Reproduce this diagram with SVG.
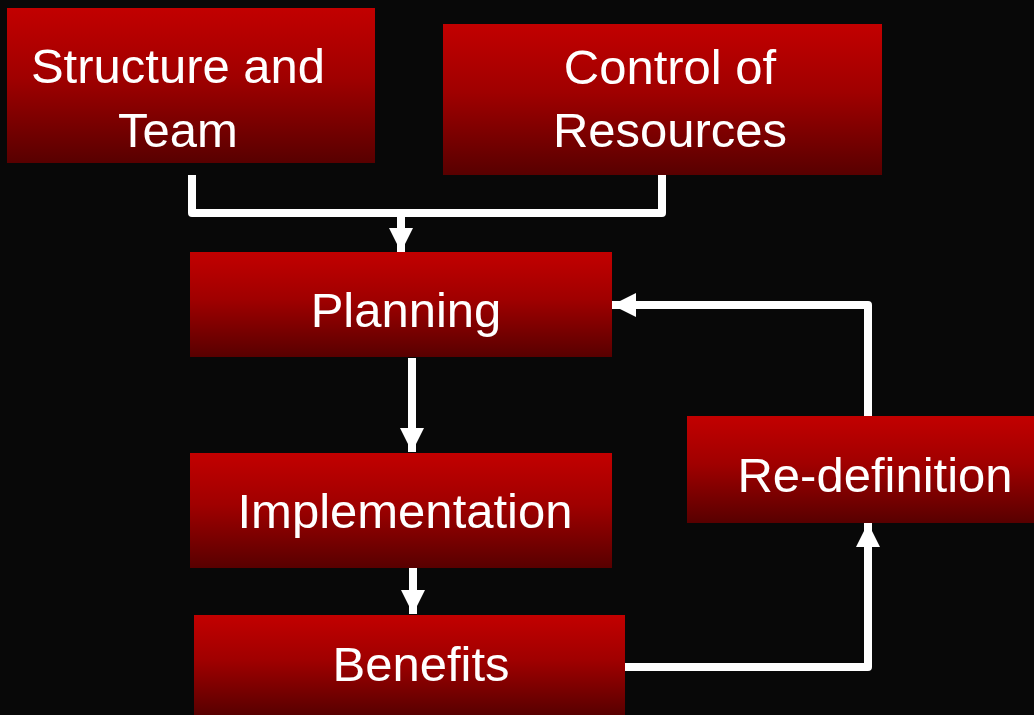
<svg xmlns="http://www.w3.org/2000/svg" width="1034" height="715" viewBox="0 0 1034 715">
<style>
.box{fill:url(#g)}
.lbl{font-family:"Liberation Sans",Arial,sans-serif;font-size:49px;fill:#ffffff;text-anchor:middle}
.con{fill:none;stroke:#ffffff;stroke-width:8;stroke-linejoin:round}
</style>
<defs>
<linearGradient id="g" x1="0" y1="0" x2="0" y2="1">
<stop offset="0" stop-color="#c20000"/>
<stop offset="0.45" stop-color="#a00000"/>
<stop offset="1" stop-color="#580000"/>
</linearGradient>
<marker id="ah" viewBox="0 0 24 24" markerWidth="24" markerHeight="24" markerUnits="userSpaceOnUse" refX="24" refY="12" orient="auto">
<path d="M0 0 L24 12 L0 24 z" fill="#ffffff"/>
</marker>
</defs>
<rect width="1034" height="715" fill="#080808"/>
<g id="connectors">
<path class="con" d="M192 175 V213 H662 V175"/>
<path class="con" d="M401 213 V252" marker-end="url(#ah)"/>
<path class="con" d="M412 358 V452" marker-end="url(#ah)"/>
<path class="con" d="M413 568 V614" marker-end="url(#ah)"/>
<path class="con" d="M625 667 H868 V523" marker-end="url(#ah)"/>
<path class="con" d="M868 416 V305 H612" marker-end="url(#ah)"/>
</g>
<g id="structure">
<rect class="box" x="7" y="8" width="368" height="155"/>
<text class="lbl" x="178" y="83">Structure and</text>
<text class="lbl" x="178" y="147">Team</text>
</g>
<g id="control">
<rect class="box" x="443" y="24" width="439" height="151"/>
<text class="lbl" x="670" y="84">Control of</text>
<text class="lbl" x="670" y="147">Resources</text>
</g>
<g id="planning">
<rect class="box" x="190" y="252" width="422" height="105"/>
<text class="lbl" x="406" y="327">Planning</text>
</g>
<g id="implementation">
<rect class="box" x="190" y="453" width="422" height="115"/>
<text class="lbl" x="405" y="528">Implementation</text>
</g>
<g id="benefits">
<rect class="box" x="194" y="615" width="431" height="100"/>
<text class="lbl" x="421" y="681">Benefits</text>
</g>
<g id="redefinition">
<rect class="box" x="687" y="416" width="347" height="107"/>
<text class="lbl" x="875" y="492">Re-definition</text>
</g>
</svg>
